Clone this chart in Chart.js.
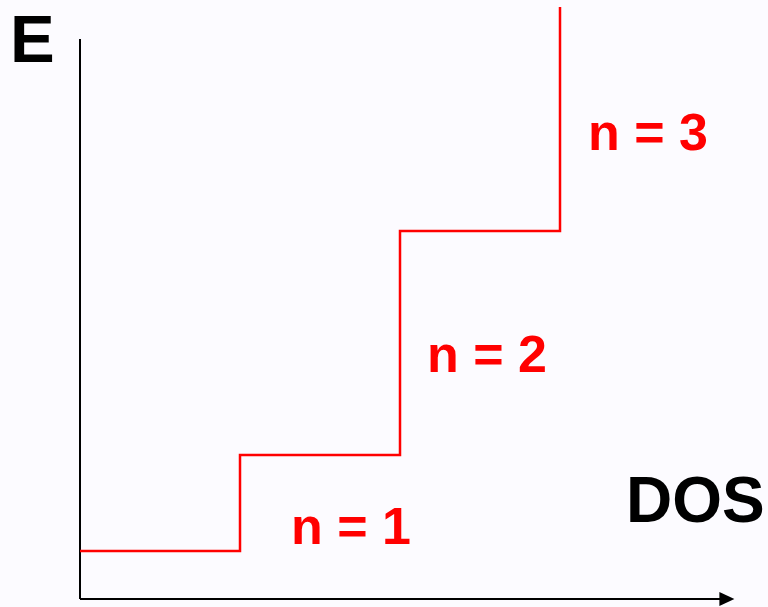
<!DOCTYPE html>
<html>
<head>
<meta charset="utf-8">
<script src="https://cdn.jsdelivr.net/npm/chart.js@4"></script>
<style>
  html, body { margin: 0; padding: 0; background: #fcfbff; }
  #wrap { width: 768px; height: 607px; position: relative; }
</style>
</head>
<body>
<div id="wrap"><canvas id="dos-chart"></canvas></div>
<script>
// ---------------------------------------------------
// DOS step positions and energy levels (arbitrary units)
const dosSteps = [ 0, 1, 2, 3 ];
const energyLevels = [ 3, 9, 23, 37 ];
const levelLabels = [ 'n = 1', 'n = 2', 'n = 3' ];
const axisTopE = 35;
const axisTipDos = 4.09;
// ---------------------------------------------------
window.addEventListener( 'load', function () {
    //
    const stepData = dosSteps.map( ( d, i ) => ( { x: d, y: energyLevels[ i ] } ) );

    const drawExtras = {
        id: 'drawExtras',
        beforeDraw( chart ) {
            const c = chart.ctx;
            c.save();
            c.fillStyle = '#fcfbff';
            c.fillRect( 0, 0, chart.width, chart.height );
            c.restore();
        },
        afterDatasetsDraw( chart ) {
            const c = chart.ctx;
            const xs = chart.scales.x, ys = chart.scales.y;
            const y0 = ys.getPixelForValue( 0 );
            const tip = xs.getPixelForValue( axisTipDos );
            c.save();
            // arrow head on DOS axis
            c.fillStyle = '#000';
            c.beginPath();
            c.moveTo( tip, y0 );
            c.lineTo( tip - 15, y0 - 7 );
            c.lineTo( tip - 15, y0 + 7 );
            c.closePath();
            c.fill();
            // axis titles
            c.textBaseline = 'alphabetic';
            c.textAlign = 'left';
            c.font = 'bold 67px "Liberation Sans", Arial, sans-serif';
            c.fillText( 'E', 10, 62 );
            c.font = 'bold 64px "Liberation Sans", Arial, sans-serif';
            c.fillText( 'DOS', 626, 522 );
            // level labels
            c.fillStyle = '#ff0000';
            c.font = 'bold 52px "Liberation Sans", Arial, sans-serif';
            const lx = [ 291, 427, 588 ];
            const ly = [ 544, 372, 150 ];
            levelLabels.forEach( ( t, i ) => c.fillText( t, lx[ i ], ly[ i ] ) );
            c.restore();
        }
    };

    new Chart( document.querySelector( '#dos-chart' ), {
        type: 'scatter',
        data: {
            datasets: [
                {
                    label: 'DOS',
                    data: stepData,
                    showLine: true,
                    stepped: 'before',
                    borderColor: '#ff0000',
                    borderWidth: 2.5,
                    borderJoinStyle: 'miter',
                    pointRadius: 0,
                    fill: false
                },
                {
                    label: 'E axis',
                    data: [ { x: 0, y: axisTopE }, { x: 0, y: 0 } ],
                    showLine: true,
                    borderColor: '#000',
                    borderWidth: 2,
                    pointRadius: 0
                },
                {
                    label: 'DOS axis',
                    data: [ { x: 0, y: 0 }, { x: axisTipDos - 0.05, y: 0 } ],
                    showLine: true,
                    borderColor: '#000',
                    borderWidth: 2,
                    pointRadius: 0
                }
            ]
        },
        options: {
            responsive: true,
            maintainAspectRatio: false,
            animation: false,
            layout: { padding: 0 },
            plugins: { legend: { display: false }, tooltip: { enabled: false } },
            scales: {
                x: { type: 'linear', display: false, min: -0.5, max: 4.3 },
                y: { type: 'linear', display: false, min: -0.5, max: 37.4375 }
            }
        },
        plugins: [ drawExtras ]
    });
    // ---------------------------------------------------
}, false );
</script>
</body>
</html>
